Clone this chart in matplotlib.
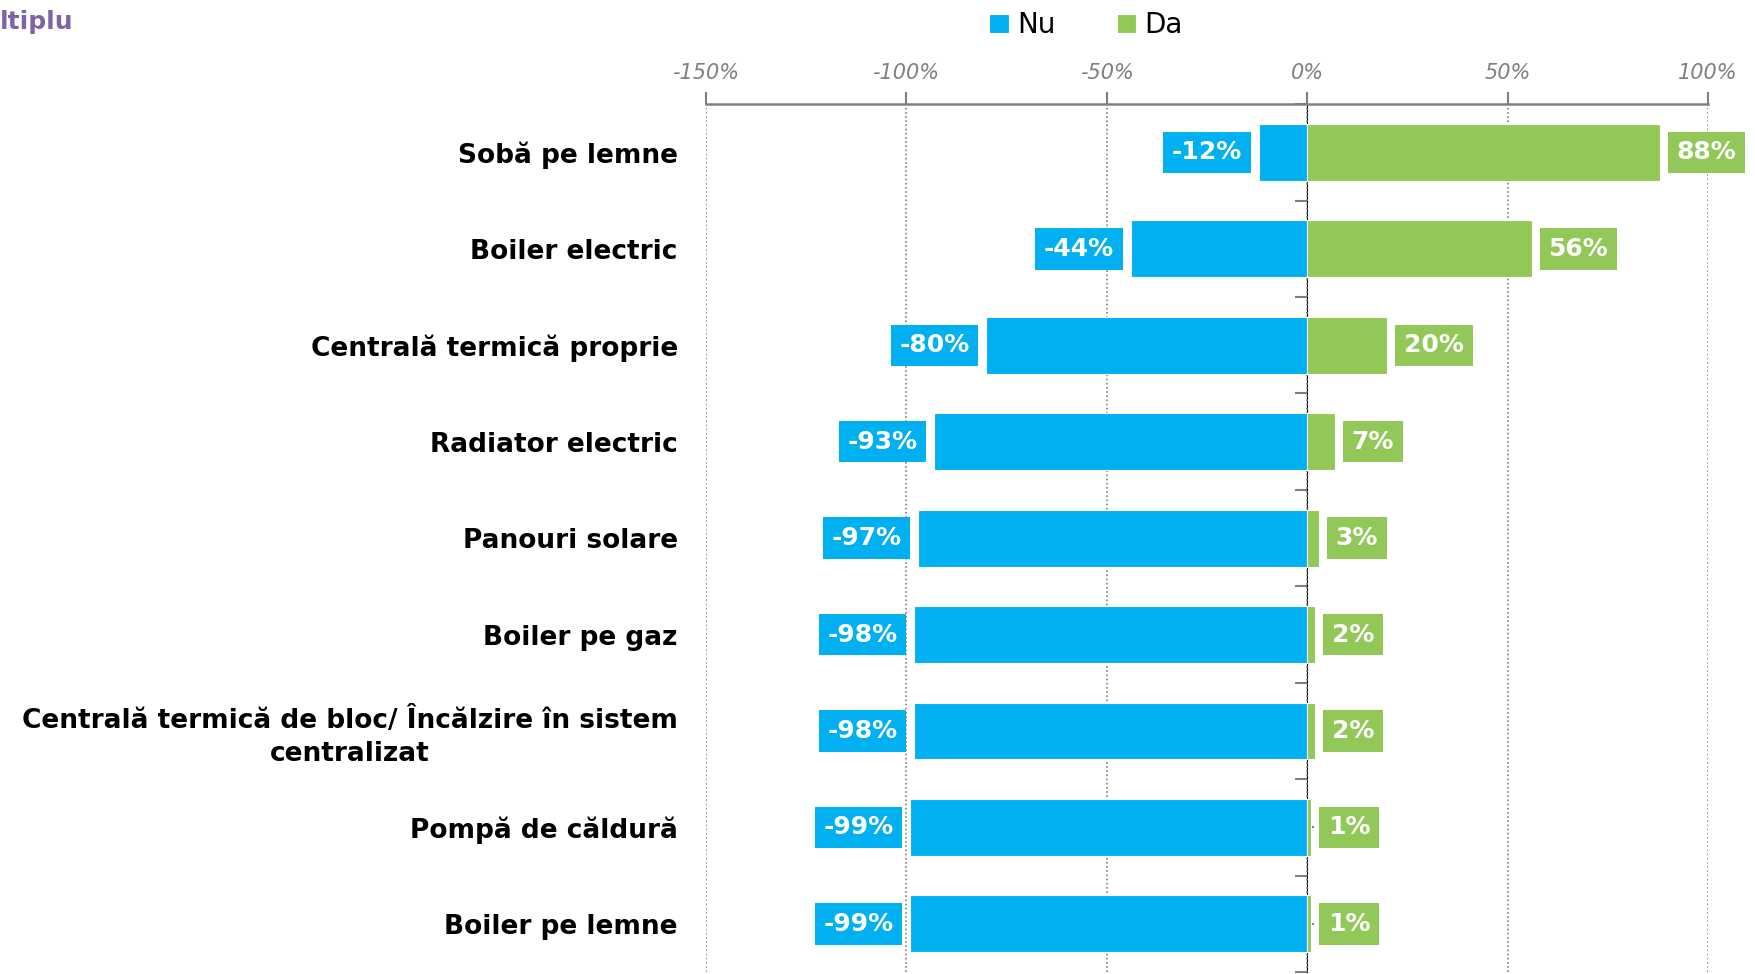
import matplotlib
matplotlib.use("Agg")
import matplotlib.pyplot as plt
import numpy as np

# data
categories = ["Sobă pe lemne", "Boiler electric", "Centrală termică proprie",
              "Radiator electric", "Panouri solare", "Boiler pe gaz",
              "Centrală termică de bloc/ Încălzire în sistem\ncentralizat",
              "Pompă de căldură", "Boiler pe lemne"]
nu_values = [-12, -44, -80, -93, -97, -98, -98, -99, -99]
da_values = [88, 56, 20, 7, 3, 2, 2, 1, 1]
series_names = ["Nu", "Da"]
x_ticks = [-150, -100, -50, 0, 50, 100]

blue = "#00B0F0"
green = "#92C857"
gray = "#808080"

fig = plt.figure(figsize=(17.56, 9.74), dpi=100)
ax = fig.add_axes([0.4018, 0.002, 0.5709, 0.891])

y = np.arange(len(categories))
b1 = ax.barh(y, nu_values, height=0.59, color=blue, edgecolor="white",
             linewidth=0.8, label=series_names[0], zorder=3)
b2 = ax.barh(y, da_values, height=0.59, color=green, edgecolor="white",
             linewidth=0.8, label=series_names[1], zorder=3)

# value labels in coloured boxes next to the bar ends
for yi, v in zip(y, nu_values):
    ax.annotate(f"{v}%", (v, yi), xytext=(-12, 0), textcoords="offset points",
                ha="right", va="center", color="white", fontsize=18,
                fontweight="bold",
                bbox=dict(boxstyle="square,pad=0.35", fc=blue, ec="none"),
                zorder=4)
for yi, v in zip(y, da_values):
    ax.annotate(f"{v}%", (v, yi), xytext=(12, 0), textcoords="offset points",
                ha="left", va="center", color="white", fontsize=18,
                fontweight="bold",
                bbox=dict(boxstyle="square,pad=0.35", fc=green, ec="none"),
                zorder=4)

ax.set_xlim(-150, 100)
ax.set_ylim(len(categories) - 0.5, -0.5)

# top percentage axis
ax.xaxis.tick_top()
ax.set_xticks(x_ticks)
ax.set_xticklabels([f"{t}%" for t in x_ticks], fontstyle="italic",
                   color=gray, fontsize=15)
ax.tick_params(axis="x", direction="out", length=9, width=1.5, color=gray,
               pad=6)
ax.grid(axis="x", linestyle=(0, (1, 1.5)), color=gray, linewidth=1.2, zorder=0)

for s in ["left", "right", "bottom"]:
    ax.spines[s].set_visible(False)
ax.spines["top"].set_color(gray)
ax.spines["top"].set_linewidth(1.8)

# category labels
ax.set_yticks(y)
ax.set_yticklabels(categories, fontsize=19, fontweight="bold",
                   multialignment="center", linespacing=1.35)
ax.tick_params(axis="y", length=0, pad=20)

# zero line with its own tick marks
zero_ax = ax.secondary_yaxis(0.6)
zero_ax.set_yticks(np.arange(len(categories) + 1) - 0.5)
zero_ax.set_yticks(y, minor=True)
zero_ax.set_yticklabels([])
zero_ax.tick_params(which="major", direction="in", length=9, width=1.5,
                    color=gray)
zero_ax.tick_params(which="minor", direction="out", length=5, width=1.5,
                    color=gray)
zero_ax.spines["left"].set_color(gray)
zero_ax.spines["left"].set_linewidth(1.8)

fig.legend(handles=[b1, b2], loc="center",
           bbox_to_anchor=(1086 / 1756, 1 - 25 / 974), ncol=2, frameon=False,
           fontsize=20, handlelength=0.7, handleheight=0.7, handletextpad=0.3,
           columnspacing=2.2)

fig.text(0.0, 1 - 22 / 974, "ltiplu", color="#8064A2", fontsize=18,
         fontweight="bold", ha="left", va="center")

fig.savefig("out.png", dpi=100)
